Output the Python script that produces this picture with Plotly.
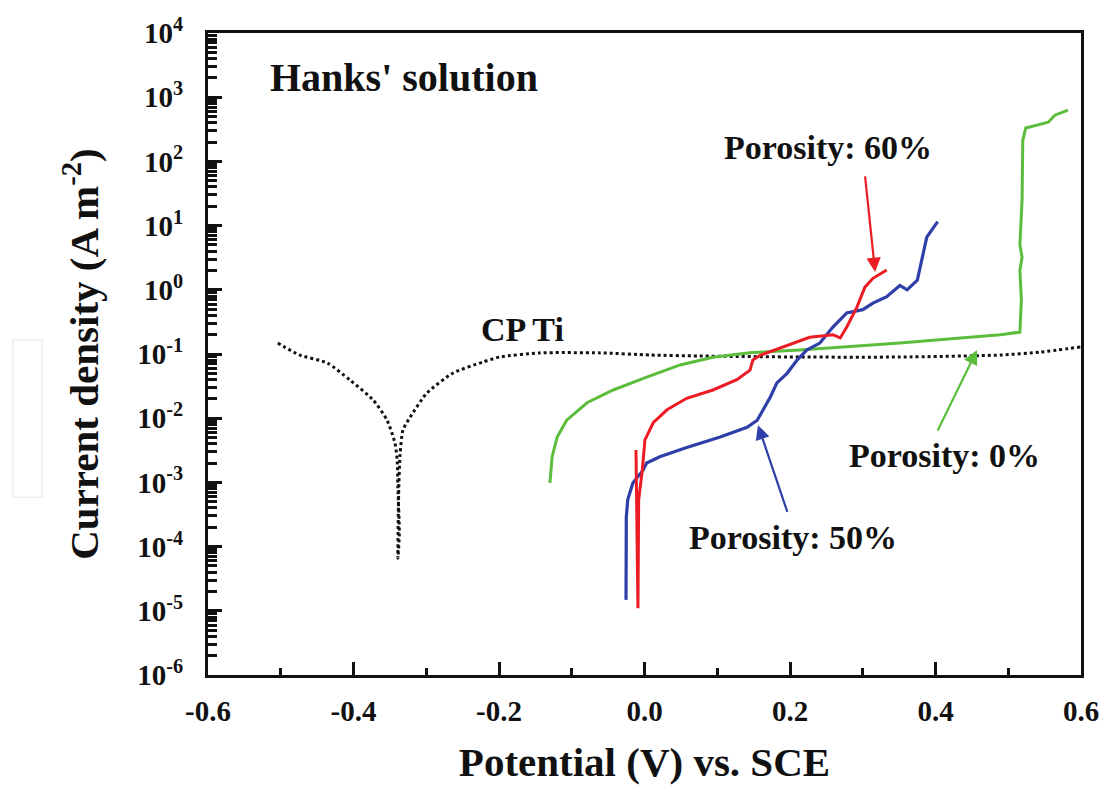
import math
import plotly.graph_objects as go

# Potentiodynamic polarization curves in Hanks' solution
# Potential (V vs. SCE) and current density (A m^-2)

cpti_v = [-0.504, -0.474, -0.436, -0.405, -0.373, -0.354, -0.343, -0.340, -0.339, -0.337, -0.339,
          -0.338, -0.336, -0.332, -0.322, -0.299, -0.263, -0.222, -0.199, -0.144, -0.061,
          0.008, 0.076, 0.214, 0.351, 0.489, 0.544, 0.599]
cpti_i = [0.148, 0.0964, 0.0724, 0.0394, 0.0192, 0.00938, 0.00411, 0.00223, 8.47e-4, 1.63e-4, 6.6e-5,
          6.3e-4, 0.00267, 0.00655, 0.01045, 0.0247, 0.0506, 0.075, 0.0897, 0.104, 0.104,
          0.0964, 0.0931, 0.0897, 0.0897, 0.0964, 0.107, 0.1285]

p0_v = [-0.130, -0.127, -0.120, -0.107, -0.079, -0.043, 0.003, 0.049, 0.094, 0.145, 0.214,
        0.351, 0.489, 0.516, 0.518, 0.516, 0.519, 0.516, 0.519, 0.520, 0.524, 0.544, 0.555,
        0.564, 0.582]
p0_i = [9.8e-4, 2.5e-3, 5.1e-3, 9.3e-3, 0.0174, 0.0275, 0.0437, 0.0676, 0.0891, 0.105, 0.115,
        0.148, 0.200, 0.219, 0.69, 2.0, 3.2, 5.0, 25, 214, 331, 380, 407,
        525, 631]

p50_v = [-0.0254, -0.025, -0.023, -0.016, -0.002, 0.003, 0.021, 0.058, 0.104, 0.141, 0.155,
         0.163, 0.173, 0.182, 0.196, 0.210, 0.223, 0.241, 0.259, 0.278, 0.300, 0.314,
         0.333, 0.351, 0.361, 0.375, 0.388, 0.403]
p50_i = [1.48e-5, 2.9e-4, 5.4e-4, 9.8e-4, 1.55e-3, 2.0e-3, 2.5e-3, 3.5e-3, 5.1e-3, 7.2e-3, 9.3e-3,
         0.0135, 0.0214, 0.0355, 0.050, 0.081, 0.115, 0.148, 0.263, 0.437, 0.49, 0.62,
         0.78, 1.17, 1.0, 1.41, 6.6, 11.5]

p60_v = [-0.0117, -0.009, -0.008, -0.003, 0.0006, 0.012, 0.031, 0.058, 0.094, 0.127, 0.145,
         0.149, 0.159, 0.190, 0.227, 0.259, 0.269, 0.278, 0.292, 0.303, 0.314, 0.333]
p60_i = [3.2e-3, 1.1e-5, 5.4e-4, 1.55e-3, 4.6e-3, 8.5e-3, 0.0135, 0.0204, 0.0275, 0.0398, 0.056,
         0.081, 0.0955, 0.129, 0.182, 0.200, 0.178, 0.263, 0.537, 1.10, 1.51, 2.04]

x_ticks = [-0.6, -0.4, -0.2, 0.0, 0.2, 0.4, 0.6]
x_ticktext = ["-0.6", "-0.4", "-0.2", "0.0", "0.2", "0.4", "0.6"]
y_exponents = [4, 3, 2, 1, 0, -1, -2, -3, -4, -5, -6]

FONT = "Liberation Serif"
RED = "#ec1c24"
BLUE = "#2f3fa8"
GREEN = "#5cbd3c"

fig = go.Figure()
fig.add_trace(go.Scatter(x=cpti_v, y=cpti_i, mode="lines", name="CP Ti",
                         line=dict(color="#111111", width=3, dash="dot", shape="spline",
                                   smoothing=0.6)))
fig.add_trace(go.Scatter(x=p0_v, y=p0_i, mode="lines", name="Porosity: 0%",
                         line=dict(color=GREEN, width=3)))
fig.add_trace(go.Scatter(x=p50_v, y=p50_i, mode="lines", name="Porosity: 50%",
                         line=dict(color=BLUE, width=3.2)))
fig.add_trace(go.Scatter(x=p60_v, y=p60_i, mode="lines", name="Porosity: 60%",
                         line=dict(color=RED, width=3)))

label_font = dict(family=FONT, size=34, color="#111111", weight="bold")

def text_label(text, x, y, size=34):
    f = dict(label_font)
    f["size"] = size
    fig.add_annotation(x=x, y=math.log10(y), xref="x", yref="y", text=text,
                       showarrow=False, xanchor="center", yanchor="middle", font=f)

def arrow(x_head, y_head, x_tail, y_tail, color):
    fig.add_annotation(x=x_head, y=math.log10(y_head), ax=x_tail, ay=math.log10(y_tail),
                       xref="x", yref="y", axref="x", ayref="y", text="",
                       showarrow=True, arrowhead=2, arrowsize=1.3, arrowwidth=2.2,
                       arrowcolor=color)

text_label("Hanks' solution", -0.331, 2.0e3, size=40)
text_label("CP Ti", -0.168, 0.245)
text_label("Porosity: 60%", 0.252, 166)
text_label("Porosity: 0%", 0.412, 2.6e-3)
text_label("Porosity: 50%", 0.204, 1.4e-4)

arrow(0.317, 1.89, 0.303, 61.7, RED)
arrow(0.457, 0.115, 0.402, 6.1e-3, GREEN)
arrow(0.156, 7.8e-3, 0.197, 3.3e-4, BLUE)

# faint outlined box in the left margin
fig.add_shape(type="rect", xref="paper", yref="paper",
              x0=-0.2234, x1=-0.190, y0=0.277, y1=0.522,
              line=dict(color="#e6e6e6", width=1), fillcolor="rgba(0,0,0,0)")

tick_font = dict(family=FONT, size=29, color="#111111", weight="bold")
title_font = dict(family=FONT, size=41, color="#111111", weight="bold")

fig.update_xaxes(
    range=[-0.6, 0.6], tickvals=x_ticks, ticktext=x_ticktext,
    ticks="inside", ticklen=13, tickwidth=3, tickcolor="#111111",
    minor=dict(ticks="inside", ticklen=7, tickwidth=3, dtick=0.1, tick0=-0.6,
               tickcolor="#111111", showgrid=False),
    showline=True, linewidth=3, linecolor="#111111", mirror=True,
    showgrid=False, zeroline=False, tickfont=tick_font, ticklabelstandoff=8,
    automargin=False,
    title=dict(text="Potential (V) vs. SCE", font=title_font, standoff=30),
)
fig.update_yaxes(
    type="log", range=[-6, 4],
    tickvals=[10.0 ** e for e in y_exponents],
    ticktext=[f"10<sup>{e}</sup>" for e in y_exponents],
    ticks="inside", ticklen=14, tickwidth=3, tickcolor="#111111",
    minor=dict(ticks="inside", ticklen=9, tickwidth=2.5, dtick="D1",
               tickcolor="#111111", showgrid=False),
    showline=True, linewidth=3, linecolor="#111111", mirror=True,
    showgrid=False, zeroline=False, tickfont=tick_font, ticklabelstandoff=16,
    automargin=False,
    title=dict(text="Current density (A m<sup>-2</sup>)", font=title_font, standoff=26),
)

fig.update_layout(
    width=1107, height=785,
    margin=dict(l=208, r=26, t=33, b=110),
    paper_bgcolor="white", plot_bgcolor="white",
    showlegend=False,
)

fig.write_html("out.html")
